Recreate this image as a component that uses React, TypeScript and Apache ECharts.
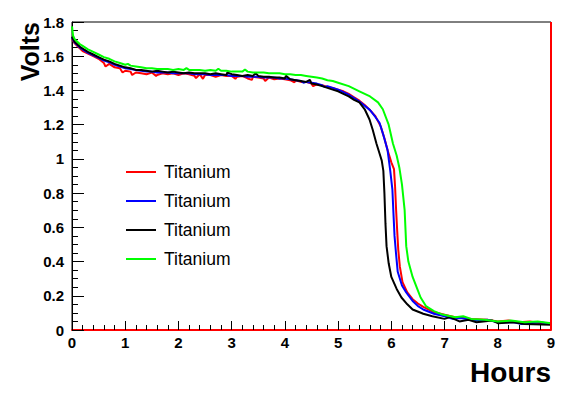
import { useEffect, useRef } from "react";
import * as echarts from "echarts";

const FONT = "'Liberation Sans', Arial, Helvetica, sans-serif";

const seriesNames = ["Titanium A", "Titanium B", "Titanium C", "Titanium D"];
const legendLabel = "Titanium";
const seriesColors = ["#ff0000", "#0000ff", "#000000", "#00ff00"];

const xTicks = { min: 0, max: 9, step: 1 };
const yTicks = { min: 0, max: 1.8, step: 0.2 };

// Common time grid of the plateau (hours)
const plateauT = [0, 0.02, 0.05, 0.1, 0.15, 0.2, 0.3, 0.4, 0.5, 0.6, 0.7, 0.8, 0.9, 1.0,
  1.1, 1.2, 1.3, 1.4, 1.5, 1.6, 1.7, 1.8, 1.9, 2.0, 2.1, 2.2, 2.3, 2.4, 2.5, 2.6, 2.7, 2.8, 2.9, 3.0,
  3.1, 3.2, 3.3, 3.4, 3.5, 3.6, 3.7, 3.8, 3.9, 4.0, 4.1, 4.2, 4.3, 4.4, 4.5, 4.6, 4.7, 4.8, 4.9, 5.0];

const redPlateau = [1.70, 1.69, 1.675, 1.66, 1.645, 1.63, 1.615, 1.60, 1.585, 1.56, 1.555, 1.535, 1.53, 1.515,
  1.51, 1.505, 1.50, 1.495, 1.505, 1.49, 1.50, 1.495, 1.50, 1.49, 1.50, 1.495, 1.485, 1.495, 1.49, 1.49,
  1.48, 1.49, 1.485, 1.485, 1.48, 1.485, 1.47, 1.48, 1.475, 1.47, 1.475, 1.465, 1.47, 1.465, 1.46, 1.46,
  1.45, 1.45, 1.44, 1.435, 1.43, 1.42, 1.415, 1.405];
const bluePlateau = [1.71, 1.695, 1.68, 1.665, 1.65, 1.64, 1.62, 1.605, 1.59, 1.575, 1.565, 1.55, 1.54, 1.53,
  1.525, 1.52, 1.515, 1.51, 1.51, 1.505, 1.505, 1.505, 1.50, 1.50, 1.50, 1.50, 1.495, 1.495, 1.495, 1.49,
  1.49, 1.49, 1.49, 1.485, 1.485, 1.485, 1.48, 1.48, 1.48, 1.475, 1.475, 1.475, 1.47, 1.47, 1.465, 1.46,
  1.455, 1.45, 1.445, 1.44, 1.43, 1.425, 1.415, 1.405];
const blackPlateau = [1.715, 1.70, 1.685, 1.67, 1.655, 1.645, 1.625, 1.61, 1.595, 1.58, 1.57, 1.555, 1.545, 1.535,
  1.53, 1.52, 1.52, 1.515, 1.51, 1.515, 1.51, 1.505, 1.51, 1.505, 1.50, 1.505, 1.50, 1.50, 1.50, 1.495,
  1.50, 1.495, 1.49, 1.495, 1.49, 1.485, 1.49, 1.485, 1.485, 1.48, 1.48, 1.475, 1.475, 1.47, 1.465, 1.46,
  1.455, 1.45, 1.44, 1.435, 1.425, 1.415, 1.405, 1.395];
const greenPlateau = [1.775, 1.72, 1.70, 1.685, 1.67, 1.66, 1.64, 1.625, 1.61, 1.595, 1.585, 1.57, 1.56, 1.55,
  1.545, 1.54, 1.535, 1.53, 1.53, 1.525, 1.525, 1.525, 1.52, 1.525, 1.52, 1.52, 1.52, 1.52, 1.515, 1.52,
  1.515, 1.515, 1.515, 1.51, 1.51, 1.51, 1.51, 1.505, 1.505, 1.505, 1.50, 1.50, 1.50, 1.495, 1.495, 1.49,
  1.49, 1.485, 1.48, 1.475, 1.47, 1.46, 1.455, 1.445];

// Noise spikes (merged into each trace by time)
const redSpikeT = [0.63, 0.95, 1.13, 1.58, 2.33, 2.46, 3.07, 3.38, 3.63, 4.18, 4.53];
const redSpikeV = [1.54, 1.505, 1.49, 1.485, 1.472, 1.468, 1.468, 1.462, 1.455, 1.447, 1.425];
const blackSpikeT = [2.92, 3.45, 4.02, 4.47, 7.1, 7.45, 7.9, 8.3];
const blackSpikeV = [1.505, 1.50, 1.485, 1.462, 0.075, 0.06, 0.055, 0.045];
const greenSpikeT = [1.05, 2.15, 2.75, 3.25, 7.35, 7.75, 8.25, 8.75];
const greenSpikeV = [1.555, 1.53, 1.527, 1.522, 0.08, 0.06, 0.055, 0.05];
const blueSpikeT = [4.35, 4.75, 7.15, 7.8, 8.45, 8.8];
const blueSpikeV = [1.445, 1.42, 0.065, 0.06, 0.035, 0.045];

// Discharge knee and tail, per series
const redDropT = [5.1, 5.2, 5.3, 5.4, 5.5, 5.6, 5.7, 5.8, 5.87, 5.93, 6.0, 6.05, 6.07, 6.09, 6.11, 6.13, 6.16,
  6.21, 6.3, 6.4, 6.5, 6.6, 6.8, 7.0, 7.2, 7.5, 7.8, 8.0, 8.2, 8.4, 8.6, 8.8, 9.0];
const redDropV = [1.395, 1.38, 1.36, 1.34, 1.315, 1.285, 1.25, 1.19, 1.12, 1.05, 0.98, 0.94, 0.84, 0.70, 0.58,
  0.47, 0.37, 0.28, 0.22, 0.18, 0.155, 0.135, 0.105, 0.09, 0.075, 0.065, 0.06, 0.05, 0.055, 0.045, 0.05, 0.04, 0.04];

const blueDropT = [5.1, 5.2, 5.3, 5.4, 5.5, 5.6, 5.7, 5.78, 5.85, 5.93, 5.98, 6.02, 6.04, 6.06, 6.09, 6.12, 6.2,
  6.28, 6.4, 6.5, 6.6, 6.8, 7.0, 7.3, 7.6, 8.0, 8.3, 8.6, 9.0];
const blueDropV = [1.39, 1.375, 1.355, 1.335, 1.31, 1.285, 1.245, 1.21, 1.14, 1.05, 0.93, 0.82, 0.68, 0.55, 0.44,
  0.34, 0.26, 0.22, 0.17, 0.14, 0.12, 0.095, 0.08, 0.07, 0.055, 0.045, 0.045, 0.04, 0.035];

const blackDropT = [5.1, 5.2, 5.3, 5.4, 5.5, 5.59, 5.65, 5.72, 5.78, 5.82, 5.85, 5.87, 5.89, 5.91, 5.95, 6.0, 6.1,
  6.19, 6.3, 6.4, 6.6, 6.77, 7.0, 7.28, 7.6, 8.0, 8.5, 9.0];
const blackDropV = [1.38, 1.365, 1.345, 1.33, 1.29, 1.23, 1.17, 1.09, 1.03, 0.99, 0.93, 0.80, 0.62, 0.49, 0.39,
  0.31, 0.24, 0.19, 0.15, 0.12, 0.095, 0.08, 0.065, 0.05, 0.045, 0.04, 0.035, 0.03];

const greenDropT = [5.2, 5.4, 5.6, 5.75, 5.84, 5.95, 6.03, 6.1, 6.15, 6.2, 6.25, 6.28, 6.32, 6.4, 6.5, 6.55, 6.65,
  6.8, 6.96, 7.2, 7.5, 8.0, 8.5, 9.0];
const greenDropV = [1.425, 1.395, 1.365, 1.33, 1.29, 1.20, 1.09, 1.02, 0.95, 0.85, 0.70, 0.49, 0.40, 0.31, 0.23,
  0.19, 0.14, 0.11, 0.09, 0.075, 0.065, 0.05, 0.045, 0.04];

const frameT = [9, 9];
const frameV = [0, 1.8];

function build(plateau: number[], dropT: number[], dropV: number[], spikeT: number[], spikeV: number[]) {
  return plateauT
    .map((t, i) => [t, plateau[i]])
    .concat(dropT.map((t, i) => [t, dropV[i]]))
    .concat(spikeT.map((t, i) => [t, spikeV[i]]))
    .sort((a, b) => a[0] - b[0]);
}

export default function App() {
  const ref = useRef<HTMLDivElement>(null);
  useEffect(() => {
    const chart = echarts.init(ref.current!, null, { renderer: "svg" });
    const datasets = [
      build(redPlateau, redDropT, redDropV, redSpikeT, redSpikeV),
      build(bluePlateau, blueDropT, blueDropV, blueSpikeT, blueSpikeV),
      build(blackPlateau, blackDropT, blackDropV, blackSpikeT, blackSpikeV),
      build(greenPlateau, greenDropT, greenDropV, greenSpikeT, greenSpikeV),
    ];
    const legendX = 126;
    const legendY0 = 172;
    const legendStep = 29;
    const legendGraphics = seriesColors.flatMap((c, i) => [
      {
        type: "line",
        shape: { x1: legendX, y1: legendY0 + i * legendStep, x2: legendX + 30, y2: legendY0 + i * legendStep },
        style: { stroke: c, lineWidth: 2 },
        silent: true,
      },
      {
        type: "text",
        x: legendX + 38,
        y: legendY0 + i * legendStep,
        style: {
          text: legendLabel, fill: "#000", font: `17.5px ${FONT}`,
          align: "left", verticalAlign: "middle",
        },
        silent: true,
      },
    ]);
    chart.setOption({
      animation: false,
      backgroundColor: "#ffffff",
      textStyle: { fontFamily: FONT },
      grid: {
        left: 72, right: 36, top: 22, bottom: 64,
        show: true, borderColor: "#000", borderWidth: 1, backgroundColor: "transparent",
      },
      xAxis: {
        type: "value",
        min: xTicks.min, max: xTicks.max, interval: xTicks.step,
        axisLine: { show: true, onZero: false, lineStyle: { color: "#ff0000", width: 2 } },
        axisTick: { show: true, inside: true, length: 9, lineStyle: { color: "#000", width: 1 } },
        minorTick: { show: true, splitNumber: 5, length: 5, lineStyle: { color: "#000", width: 1 } },
        splitLine: { show: false },
        axisLabel: { color: "#000", fontWeight: "bold", fontSize: 15, fontFamily: FONT, margin: 5 },
      },
      yAxis: {
        type: "value",
        min: yTicks.min, max: yTicks.max, interval: yTicks.step,
        axisLine: { show: true, onZero: false, lineStyle: { color: "#000", width: 1 } },
        axisTick: { show: true, inside: true, length: 12, lineStyle: { color: "#000", width: 1 } },
        minorTick: { show: true, splitNumber: 4, length: 6, lineStyle: { color: "#000", width: 1 } },
        splitLine: { show: false },
        axisLabel: { color: "#000", fontWeight: "bold", fontSize: 15, fontFamily: FONT, margin: 8 },
      },
      series: [
        ...datasets.map((d, i) => ({
          type: "line",
          name: seriesNames[i],
          data: d,
          symbol: "none",
          color: seriesColors[i],
          lineStyle: { color: seriesColors[i], width: 2 },
          silent: true,
        })),
        {
          type: "line",
          name: "frame",
          data: frameT.map((t, i) => [t, frameV[i]]),
          symbol: "none",
          clip: false,
          lineStyle: { color: "#ff0000", width: 2 },
          silent: true,
        },
      ],
      graphic: [
        ...legendGraphics,
        {
          type: "text",
          x: 30, y: 22, rotation: Math.PI / 2,
          style: {
            text: "Volts", fill: "#000", font: `bold 25px ${FONT}`,
            align: "right", verticalAlign: "middle",
          },
        },
        {
          type: "text",
          x: 551, y: 372,
          style: {
            text: "Hours", fill: "#000", font: `bold 28px ${FONT}`,
            align: "right", verticalAlign: "middle",
          },
        },
      ],
    });
    return () => chart.dispose();
  }, []);
  return <div ref={ref} style={{ position: "fixed", left: 0, top: 0, width: 587, height: 394 }} />;
}
